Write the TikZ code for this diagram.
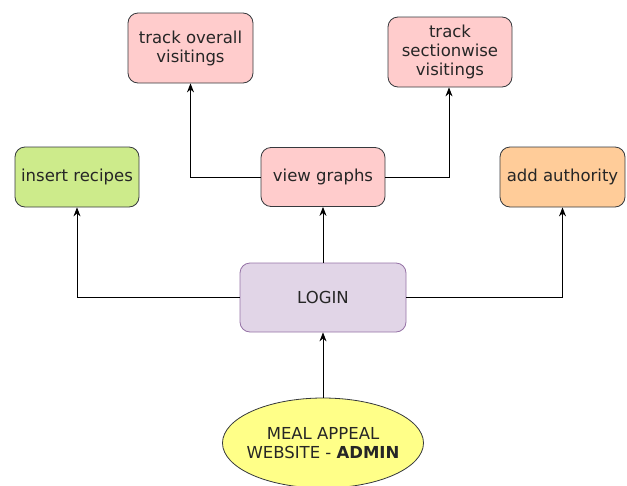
\documentclass[tikz,border=0pt]{standalone}
\usepackage{fontspec}
\setmainfont{DejaVu Sans}
\usetikzlibrary{arrows.meta,shapes.geometric}
\definecolor{pinkfill}{HTML}{FFCCCC}
\definecolor{greenfill}{HTML}{CDEB8B}
\definecolor{orangefill}{HTML}{FFCC99}
\definecolor{purplefill}{HTML}{E1D5E7}
\definecolor{purplestroke}{HTML}{9673A6}
\definecolor{yellowfill}{HTML}{FFFF88}
\definecolor{darkstroke}{HTML}{36393D}
\definecolor{txt}{HTML}{262626}
\begin{document}
\begin{tikzpicture}[x=1pt,y=-1pt,
  lbl/.style={align=center,font=\fontsize{16.5}{19}\selectfont,text=txt,inner sep=1pt},
  box/.style={lbl,draw=darkstroke,line width=0.8pt,rounded corners=10pt},
  conn/.style={line width=0.9pt,-{Stealth[length=9pt,width=7pt]}}]
\useasboundingbox (0,0) rectangle (627,485);
\node[box,fill=pinkfill,minimum width=125pt,minimum height=70pt] (tov) at (190.5,48) {track overall\\visitings};
\node[box,fill=pinkfill,minimum width=124pt,minimum height=70pt] (tsv) at (450,52) {track\\sectionwise\\visitings};
\node[box,fill=greenfill,minimum width=124pt,minimum height=60pt] (ins) at (77,177) {insert recipes};
\node[box,fill=pinkfill,minimum width=124pt,minimum height=59pt] (vg) at (323,177) {view graphs};
\node[box,fill=orangefill,minimum width=125pt,minimum height=60pt] (aa) at (562.5,177) {add authority};
\node[box,draw=purplestroke,fill=purplefill,minimum width=166pt,minimum height=69pt] (login) at (323,297.5) {LOGIN};
\node[lbl,draw=darkstroke,line width=0.8pt,fill=yellowfill,ellipse,minimum width=201pt,minimum height=90pt,inner xsep=-30pt,inner ysep=-10pt] (web) at (323,443) {MEAL APPEAL\\WEBSITE - \textbf{ADMIN}};
\draw[conn] (web.north) -- (login.south);
\draw[conn] (login.north) -- (vg.south);
\draw[conn] (login.west) -| (ins.south);
\draw[conn] (login.east) -| (aa.south);
\draw[conn] (vg.west) -| (tov.south);
\draw[conn] (vg.east) -| ([xshift=-1pt]tsv.south);
\end{tikzpicture}
\end{document}
